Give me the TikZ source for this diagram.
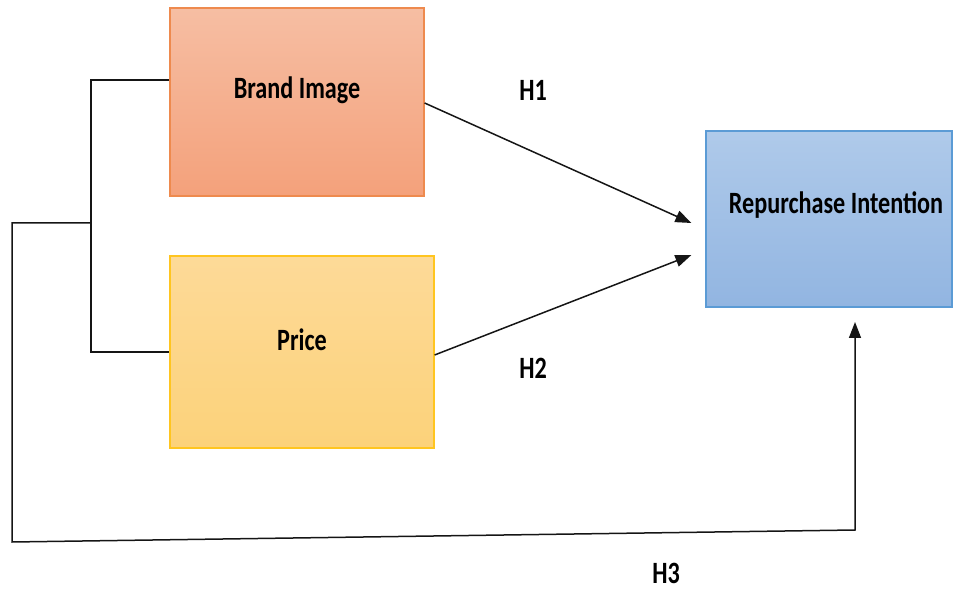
\documentclass[tikz,border=0pt]{standalone}
\usepackage{fontspec}
\setmainfont{Carlito}
\usetikzlibrary{arrows.meta}
\definecolor{biTop}{HTML}{F6BEA3}
\definecolor{biBot}{HTML}{F4A17B}
\definecolor{biLine}{HTML}{EE8A4E}
\definecolor{prTop}{HTML}{FDDA98}
\definecolor{prBot}{HTML}{FCD27A}
\definecolor{prLine}{HTML}{FFC520}
\definecolor{riTop}{HTML}{AFCAEA}
\definecolor{riBot}{HTML}{92B5E1}
\definecolor{riLine}{HTML}{5B9BD5}
\definecolor{ink}{HTML}{151515}
% narrow bold lettering used for all titles
\newcommand{\narrow}[1]{\scalebox{0.78}[1]{#1}}
\tikzset{
  block/.style={draw, line width=1.2pt, inner sep=0pt},
  caption/.style={font=\fontsize{31}{37}\selectfont\bfseries, inner sep=0pt},
  conn/.style={draw=ink, line width=1.5pt},
  arr/.style={conn, -{Triangle[length=16pt,width=12pt]}},
}
\begin{document}
\begin{tikzpicture}[x=1pt,y=1pt]
\useasboundingbox (0,0) rectangle (955,589);

% boxes
\node[block, draw=biLine, top color=biTop, bottom color=biBot,
      minimum width=254pt, minimum height=188pt] (bi) at (297,487) {};
\node[block, draw=prLine, top color=prTop, bottom color=prBot,
      minimum width=264pt, minimum height=192pt] (pr) at (302,237) {};
\node[block, draw=riLine, top color=riTop, bottom color=riBot,
      minimum width=246pt, minimum height=176pt] (ri) at (829,370) {};

% box titles
\node[caption] (tbi) at ([yshift=12pt]bi.center) {\narrow{Brand Image}};
\node[caption] (tpr) at ([yshift=12pt]pr.center) {\narrow{Price}};
\node[caption] (tri) at ([xshift=7pt,yshift=14pt]ri.center) {\narrow{Repurchase Intention}};

% hypothesis labels
\node[caption] (h1) at (533,499) {\narrow{H1}};
\node[caption] (h2) at (533,221) {\narrow{H2}};
\node[caption] (h3) at (666,16) {\narrow{H3}};

% bracket joining the two predictors
\coordinate (bt) at (91,509);
\coordinate (bb) at (91,237);
\coordinate (bm) at (91,366);
\draw[conn] ([yshift=22pt]bi.west) -- (bt) -- (bb) -- (pr.west);

% joint path to the outcome (H3)
\coordinate (o1) at (12,366);
\coordinate (o2) at (12,47);
\coordinate (o3) at (855,59);
\coordinate (t3) at (855,267);
\draw[arr] (bm) -- (o1) -- (o2) -- (o3) -- (t3);

% direct effects
\coordinate (t1) at ([xshift=-14pt,yshift=-4pt]ri.west);
\coordinate (t2) at ([xshift=-14pt,yshift=-36pt]ri.west);
\draw[arr] ([yshift=-1pt]bi.east) -- (t1);
\draw[arr] ([yshift=-3pt]pr.east) -- (t2);
\end{tikzpicture}
\end{document}
